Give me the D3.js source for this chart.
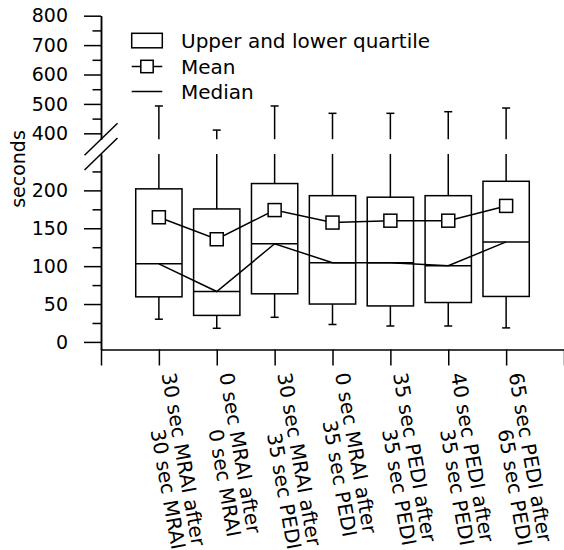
<!DOCTYPE html>
<html lang="en">
<head>
<meta charset="utf-8">
<title>Box plot - seconds</title>
<script src="https://cdn.jsdelivr.net/npm/d3@7"></script>
<style>
body { margin: 0; background: #fff; }
svg text { font-family: "DejaVu Sans", sans-serif; fill: #000; }
.axis path, .axis line { stroke: #000; stroke-width: 1.5; }
.mark { stroke: #000; stroke-width: 1.5; fill: none; }
</style>
</head>
<body>
<script>
// two-line category labels
var categories = [
  ["30 sec MRAI after", "30 sec MRAI"],
  ["0 sec MRAI after", "0 sec MRAI"],
  ["30 sec MRAI after", "35 sec PEDI"],
  ["0 sec MRAI after", "35 sec PEDI"],
  ["35 sec PEDI after", "35 sec PEDI"],
  ["40 sec PEDI after", "35 sec PEDI"],
  ["65 sec PEDI after", "65 sec PEDI"]
];
var whiskerLow  = [30, 18, 32.5, 23, 21, 21, 18.5];
var quartile1   = [59.5, 35, 63.5, 50, 47.5, 52, 60];
var medians     = [103, 66.5, 129.5, 104.5, 104.5, 100.5, 132];
var quartile3   = [202, 175.5, 209, 193, 191, 193, 212];
var whiskerHigh = [493, 411, 493, 468, 468, 473.5, 486];
var means       = [164.5, 135.5, 174, 157.5, 160, 160, 179.5];

var upperTicks = [400, 500, 600, 700, 800];
var upperMinor = [450, 550, 650, 750];
var lowerTicks = [0, 50, 100, 150, 200];
var lowerMinor = [25, 75, 125, 175, 225];
var legendLabels = ["Upper and lower quartile", "Mean", "Median"];

var width = 564, height = 550;
var svg = d3.select("body").append("svg")
    .attr("width", width)
    .attr("height", height);

var x = d3.scaleLinear().domain([0, categories.length + 1]).range([101, 564]);
var yLow = d3.scaleLinear().domain([-10, 248]).range([349.5, 154]);
var yHigh = d3.scaleLinear().domain([380, 800]).range([139.2, 15.7]);
var boxW = x(0.8) - x(0);
var capW = 8, sq = 13;

// y axis, two panels
function yAxes(scale, major, minor) {
  svg.append("g").attr("class", "axis").attr("transform", "translate(101,0)")
    .call(d3.axisLeft(scale).tickValues(major).tickSize(17).tickSizeOuter(0).tickPadding(16))
    .call(function(g) { g.selectAll("text").style("font-size", "19px"); });
  svg.append("g").attr("class", "axis").attr("transform", "translate(101,0)")
    .call(d3.axisLeft(scale).tickValues(minor).tickSize(8.5).tickSizeOuter(0).tickFormat(""));
}
yAxes(yHigh, upperTicks, upperMinor);
yAxes(yLow, lowerTicks, lowerMinor);

// break marks
[yHigh.range()[0], yLow.range()[1]].forEach(function(yb) {
  svg.append("line").attr("class", "mark")
    .attr("x1", 101 - 16.5).attr("y1", yb + 16)
    .attr("x2", 101 + 16.5).attr("y2", yb - 16);
});

svg.append("text")
    .attr("transform", "translate(25,169) rotate(-90)")
    .attr("text-anchor", "middle")
    .style("font-size", "19px")
    .text("seconds");

// x axis
svg.append("g").attr("class", "axis").attr("transform", "translate(0,349.5)")
  .call(d3.axisBottom(x).tickValues(d3.range(0, categories.length + 2)).tickSize(16).tickSizeOuter(0).tickFormat(""));

categories.forEach(function(lines, i) {
  var g = svg.append("g")
      .attr("transform", "translate(" + (x(i + 1) + 2.5) + ",374) rotate(80)")
      .style("font-size", "20px");
  var t1 = g.append("text").text(lines[0]);
  var len = t1.node().getComputedTextLength();
  g.append("text").attr("x", len).attr("y", 20.5)
    .attr("text-anchor", "end").text(lines[1]);
});

// boxes and whiskers
var idx = d3.range(categories.length);
var cx = function(i) { return x(i + 1); };

idx.forEach(function(i) {
  svg.append("rect").attr("class", "mark")
    .attr("x", cx(i) - boxW / 2).attr("width", boxW)
    .attr("y", yLow(quartile3[i])).attr("height", yLow(quartile1[i]) - yLow(quartile3[i]));
  svg.append("line").attr("class", "mark")
    .attr("x1", cx(i) - boxW / 2).attr("x2", cx(i) + boxW / 2)
    .attr("y1", yLow(medians[i])).attr("y2", yLow(medians[i]));
  // lower whisker
  svg.append("line").attr("class", "mark")
    .attr("x1", cx(i)).attr("x2", cx(i))
    .attr("y1", yLow(quartile1[i])).attr("y2", yLow(whiskerLow[i]));
  svg.append("line").attr("class", "mark")
    .attr("x1", cx(i) - capW / 2).attr("x2", cx(i) + capW / 2)
    .attr("y1", yLow(whiskerLow[i])).attr("y2", yLow(whiskerLow[i]));
  // upper whisker, split by the break
  var lowTop = yLow.domain()[1], highBottom = yHigh.domain()[0];
  svg.append("line").attr("class", "mark")
    .attr("x1", cx(i)).attr("x2", cx(i))
    .attr("y1", yLow(quartile3[i])).attr("y2", yLow(Math.min(whiskerHigh[i], lowTop)));
  if (whiskerHigh[i] > highBottom) {
    svg.append("line").attr("class", "mark")
      .attr("x1", cx(i)).attr("x2", cx(i))
      .attr("y1", yHigh(highBottom)).attr("y2", yHigh(whiskerHigh[i]));
    svg.append("line").attr("class", "mark")
      .attr("x1", cx(i) - capW / 2).attr("x2", cx(i) + capW / 2)
      .attr("y1", yHigh(whiskerHigh[i])).attr("y2", yHigh(whiskerHigh[i]));
  }
});

var line = d3.line().x(function(d, i) { return cx(i); }).y(function(d) { return yLow(d); });
svg.append("path").attr("class", "mark").attr("d", line(medians));
svg.append("path").attr("class", "mark").attr("d", line(means));

svg.selectAll(".meanpt").data(means).enter().append("rect")
  .attr("class", "mark meanpt")
  .style("fill", "#fff")
  .attr("x", function(d, i) { return cx(i) - sq / 2; })
  .attr("y", function(d) { return yLow(d) - sq / 2; })
  .attr("width", sq).attr("height", sq);

// legend
var lx0 = 131.7, lx1 = 162.3, rows = [40.5, 66.5, 91.5];
svg.append("rect").attr("class", "mark")
  .attr("x", lx0).attr("y", rows[0] - 7.2).attr("width", lx1 - lx0).attr("height", 14.5);
svg.append("line").attr("class", "mark")
  .attr("x1", lx0).attr("x2", lx1).attr("y1", rows[1]).attr("y2", rows[1]);
svg.append("rect").attr("class", "mark").style("fill", "#fff")
  .attr("x", (lx0 + lx1) / 2 - 6.2).attr("y", rows[1] - 6.2).attr("width", 12.4).attr("height", 12.4);
svg.append("line").attr("class", "mark")
  .attr("x1", lx0).attr("x2", lx1).attr("y1", rows[2]).attr("y2", rows[2]);
legendLabels.forEach(function(s, i) {
  svg.append("text").attr("x", 181).attr("y", rows[i] + 7)
    .style("font-size", "20px").text(s);
});
</script>
</body>
</html>
